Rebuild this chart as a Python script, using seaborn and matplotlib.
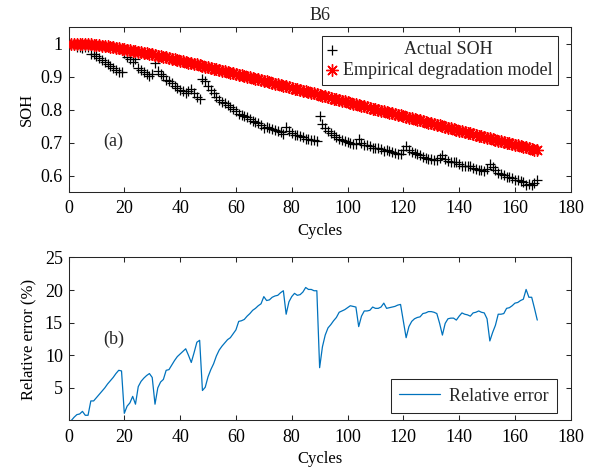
import matplotlib
matplotlib.use("Agg")
import matplotlib.pyplot as plt
import pandas as pd
import seaborn as sns
from matplotlib.transforms import Bbox

# Battery B6: measured state of health per cycle, the empirical model and the error between them
cycles = list(range(1, 169))

actual_soh = [
    1.000, 0.995, 0.990, 0.989, 0.985, 0.990, 0.989, 0.968, 0.967, 0.961,
    0.956, 0.950, 0.945, 0.938, 0.933, 0.927, 0.921, 0.915, 0.914, 0.972,
    0.960, 0.954, 0.943, 0.953, 0.927, 0.919, 0.913, 0.907, 0.903, 0.907,
    0.941, 0.917, 0.907, 0.903, 0.890, 0.887, 0.879, 0.872, 0.865, 0.860,
    0.855, 0.850, 0.856, 0.863, 0.850, 0.837, 0.833, 0.891, 0.885, 0.870,
    0.859, 0.850, 0.839, 0.830, 0.824, 0.819, 0.813, 0.809, 0.803, 0.797,
    0.786, 0.784, 0.781, 0.776, 0.771, 0.766, 0.762, 0.758, 0.754, 0.745,
    0.747, 0.745, 0.741, 0.737, 0.735, 0.731, 0.727, 0.748, 0.734, 0.728,
    0.722, 0.722, 0.720, 0.716, 0.710, 0.710, 0.709, 0.708, 0.706, 0.781,
    0.757, 0.743, 0.734, 0.729, 0.722, 0.718, 0.711, 0.708, 0.705, 0.702,
    0.698, 0.696, 0.695, 0.712, 0.700, 0.693, 0.692, 0.690, 0.684, 0.683,
    0.682, 0.679, 0.674, 0.677, 0.673, 0.671, 0.669, 0.666, 0.664, 0.677,
    0.689, 0.677, 0.671, 0.667, 0.664, 0.662, 0.656, 0.654, 0.651, 0.650,
    0.648, 0.648, 0.654, 0.662, 0.650, 0.644, 0.642, 0.640, 0.640, 0.634,
    0.630, 0.629, 0.628, 0.628, 0.623, 0.620, 0.617, 0.617, 0.615, 0.619,
    0.635, 0.626, 0.618, 0.607, 0.605, 0.603, 0.597, 0.595, 0.591, 0.587,
    0.585, 0.582, 0.579, 0.570, 0.574, 0.572, 0.578, 0.586,
]

model_soh = [
    1.000, 1.000, 0.999, 0.999, 0.999, 0.998, 0.997, 0.997, 0.996, 0.995,
    0.994, 0.993, 0.992, 0.991, 0.990, 0.988, 0.987, 0.986, 0.984, 0.983,
    0.981, 0.980, 0.978, 0.977, 0.975, 0.974, 0.972, 0.970, 0.968, 0.967,
    0.965, 0.963, 0.961, 0.960, 0.958, 0.956, 0.954, 0.952, 0.950, 0.948,
    0.946, 0.944, 0.942, 0.940, 0.938, 0.937, 0.935, 0.932, 0.930, 0.928,
    0.926, 0.924, 0.922, 0.920, 0.918, 0.916, 0.914, 0.912, 0.910, 0.908,
    0.906, 0.904, 0.902, 0.900, 0.897, 0.895, 0.893, 0.891, 0.889, 0.887,
    0.885, 0.883, 0.881, 0.878, 0.876, 0.874, 0.872, 0.870, 0.868, 0.866,
    0.863, 0.861, 0.859, 0.857, 0.855, 0.853, 0.851, 0.849, 0.846, 0.844,
    0.842, 0.840, 0.838, 0.836, 0.833, 0.831, 0.829, 0.827, 0.825, 0.823,
    0.821, 0.818, 0.816, 0.814, 0.812, 0.810, 0.808, 0.806, 0.803, 0.801,
    0.799, 0.797, 0.795, 0.793, 0.790, 0.788, 0.786, 0.784, 0.782, 0.780,
    0.777, 0.775, 0.773, 0.771, 0.769, 0.767, 0.764, 0.762, 0.760, 0.758,
    0.756, 0.754, 0.752, 0.749, 0.747, 0.745, 0.743, 0.741, 0.739, 0.736,
    0.734, 0.732, 0.730, 0.728, 0.726, 0.723, 0.721, 0.719, 0.717, 0.715,
    0.713, 0.710, 0.708, 0.706, 0.704, 0.702, 0.700, 0.698, 0.695, 0.693,
    0.691, 0.689, 0.687, 0.685, 0.682, 0.680, 0.678, 0.676,
]

relative_error = [
    0.0, 0.5, 0.9, 1.0, 1.4, 0.8, 0.8, 3.0, 3.0, 3.5,
    4.0, 4.5, 5.0, 5.6, 6.1, 6.6, 7.2, 7.7, 7.6, 1.1,
    2.2, 2.7, 3.7, 2.5, 5.2, 6.0, 6.5, 6.9, 7.2, 6.6,
    2.5, 5.0, 5.9, 6.3, 7.7, 7.8, 8.5, 9.2, 9.8, 10.2,
    10.6, 11.0, 10.0, 8.9, 10.4, 12.0, 12.3, 4.6, 5.1, 6.7,
    7.8, 8.7, 9.9, 10.8, 11.4, 11.9, 12.4, 12.7, 13.3, 13.9,
    15.2, 15.3, 15.5, 16.0, 16.4, 16.9, 17.2, 17.6, 17.9, 19.0,
    18.4, 18.5, 18.9, 19.1, 19.2, 19.6, 19.9, 16.3, 18.2, 19.0,
    19.5, 19.2, 19.3, 19.7, 20.4, 20.1, 20.1, 19.9, 19.9, 8.1,
    11.3, 13.1, 14.2, 14.7, 15.3, 15.8, 16.6, 16.8, 17.0, 17.3,
    17.6, 17.5, 17.4, 14.4, 16.0, 16.8, 16.8, 16.9, 17.4, 17.2,
    17.2, 17.4, 18.0, 17.2, 17.3, 17.4, 17.5, 17.7, 17.8, 15.3,
    12.7, 14.4, 15.2, 15.6, 15.8, 15.9, 16.4, 16.5, 16.7, 16.7,
    16.6, 16.4, 14.9, 13.1, 14.9, 15.6, 15.7, 15.7, 15.4, 16.0,
    16.5, 16.3, 16.2, 16.0, 16.5, 16.6, 16.8, 16.6, 16.5, 15.6,
    12.2, 13.5, 14.6, 16.3, 16.3, 16.4, 17.2, 17.3, 17.6, 18.0,
    18.1, 18.4, 18.6, 20.1, 18.9, 18.9, 17.2, 15.4,
]

x_ticks = list(range(0, 181, 20))
soh_ticks = [0.6, 0.7, 0.8, 0.9, 1.0]
soh_tick_labels = ["0.6", "0.7", "0.8", "0.9", "1"]
err_ticks = [5, 10, 15, 20, 25]

df = pd.DataFrame({
    "Cycle": cycles,
    "Actual": actual_soh,
    "Model": model_soh,
    "Error": relative_error,
})

sns.set_theme(style="ticks")
INK = "#262626"
plt.rcParams.update({
    "font.family": ["Liberation Serif", "DejaVu Serif"],
    "font.size": 13,
    "axes.edgecolor": INK,
    "axes.linewidth": 0.75,
    "axes.labelcolor": "black",
    "xtick.color": INK,
    "ytick.color": INK,
    "xtick.labelcolor": "black",
    "ytick.labelcolor": "black",
    "xtick.direction": "in",
    "ytick.direction": "in",
    "xtick.top": True,
    "ytick.right": True,
    "xtick.major.size": 3.8,
    "ytick.major.size": 3.8,
    "xtick.major.width": 0.75,
    "ytick.major.width": 0.75,
    "xtick.major.pad": 6.0,
    "ytick.major.pad": 4.0,
    "xtick.labelsize": 13,
    "ytick.labelsize": 13,
    "legend.fontsize": 13,
})


def center_legend_labels(leg):
    """Centre every legend label within the width of the widest one."""
    rows = leg._legend_handle_box.get_children()[0].get_children()
    areas = [row.get_children()[1] for row in rows]
    originals = [a.get_bbox for a in areas]

    def widest(renderer):
        return max(f(renderer).width for f in originals)

    for area, f in zip(areas, originals):
        area._text.set_horizontalalignment("center")

        def patched(renderer, f=f):
            b = f(renderer)
            w = widest(renderer)
            return Bbox.from_bounds(-w / 2, b.y0, w, b.height)

        area.get_bbox = patched


fig = plt.figure(figsize=(6.02, 4.68), dpi=100)
ax1 = fig.add_axes([0.1138, 0.5897, 0.8343, 0.3526])
ax2 = fig.add_axes([0.1138, 0.1015, 0.8343, 0.3483])

# (a) SOH trajectories
sns.scatterplot(data=df, x="Cycle", y="Actual", marker="+", color="black",
                s=56, linewidth=0.9, ax=ax1, label="Actual SOH", zorder=2)
sns.scatterplot(data=df, x="Cycle", y="Model", marker=(8, 2, 0), color="red",
                edgecolor="red", s=72, linewidth=1.0, ax=ax1,
                label="Empirical degradation model", zorder=3)
ax1.set_xlim(0, 180)
ax1.set_ylim(0.55, 1.05)
ax1.set_xticks(x_ticks)
ax1.set_yticks(soh_ticks)
ax1.set_yticklabels(soh_tick_labels)
ax1.set_xlabel("Cycles", labelpad=4)
ax1.set_ylabel("SOH", labelpad=4)
ax1.set_title("B6", fontsize=13, pad=5)
ax1.text(12.3, 0.705, "(a)", ha="left", va="center", fontsize=13)
leg1 = ax1.legend(loc="upper right", bbox_to_anchor=(0.9753, 0.945),
                  borderaxespad=0, fancybox=False, framealpha=1,
                  edgecolor=INK, borderpad=0.3, handlelength=0.5,
                  handletextpad=0.37, labelspacing=0.2, scatterpoints=1)
leg1.get_frame().set_linewidth(0.75)
center_legend_labels(leg1)

# (b) relative error of the model
sns.lineplot(data=df, x="Cycle", y="Error", color="#0072BD", linewidth=0.9,
             ax=ax2, label="Relative error")
ax2.set_xlim(0, 180)
ax2.set_ylim(0, 25)
ax2.set_xticks(x_ticks)
ax2.set_yticks(err_ticks)
ax2.set_xlabel("Cycles", labelpad=4)
ax2.set_ylabel("Relative error (%)", labelpad=6)
ax2.text(12.3, 12.5, "(b)", ha="left", va="center", fontsize=13)
leg2 = ax2.legend(loc="lower right", bbox_to_anchor=(0.972, 0.048),
                  borderaxespad=0, fancybox=False, framealpha=1,
                  edgecolor=INK, borderpad=0.45, handlelength=2.25,
                  handletextpad=0.5)
leg2.get_frame().set_linewidth(0.75)

for ax in (ax1, ax2):
    for side in ("top", "right", "bottom", "left"):
        ax.spines[side].set_visible(True)

fig.savefig("out.png", dpi=100, facecolor="white")
